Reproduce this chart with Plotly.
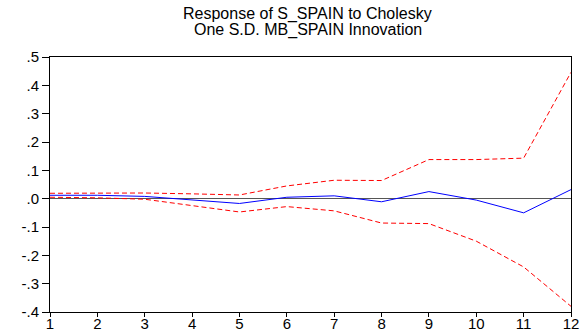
import plotly.graph_objects as go

# Impulse response periods and estimates
periods = list(range(1, 13))
response = [0.012, 0.012, 0.008, -0.005, -0.017, 0.005, 0.010, -0.011, 0.025, -0.005, -0.050, 0.032]
upper_band = [0.019, 0.020, 0.020, 0.017, 0.013, 0.045, 0.065, 0.064, 0.138, 0.138, 0.143, 0.446]
lower_band = [0.005, 0.003, -0.002, -0.025, -0.047, -0.028, -0.043, -0.086, -0.088, -0.150, -0.241, -0.380]

y_tick_vals = [-0.4, -0.3, -0.2, -0.1, 0.0, 0.1, 0.2, 0.3, 0.4, 0.5]
y_tick_text = ["-.4", "-.3", "-.2", "-.1", ".0", ".1", ".2", ".3", ".4", ".5"]

title_lines = ["Response of S_SPAIN to Cholesky", "One S.D. MB_SPAIN Innovation"]

fig = go.Figure()
fig.add_trace(go.Scatter(x=periods, y=upper_band, mode="lines",
                         line=dict(color="#ff0000", width=1, dash="5px,3px")))
fig.add_trace(go.Scatter(x=periods, y=lower_band, mode="lines",
                         line=dict(color="#ff0000", width=1, dash="5px,3px")))
fig.add_trace(go.Scatter(x=periods, y=response, mode="lines",
                         line=dict(color="#0000ff", width=1)))

fig.update_layout(
    width=581, height=332,
    margin=dict(l=50, r=10, t=57, b=20),
    paper_bgcolor="white", plot_bgcolor="white",
    showlegend=False,
    font=dict(family="Liberation Sans, Arial, sans-serif", size=13, color="black"),
)
# Two-line chart heading placed above the plotting area
fig.add_annotation(text=title_lines[0], xref="paper", yref="paper",
                   x=0.495, y=1.167, xanchor="center", yanchor="middle",
                   showarrow=False, font=dict(size=16, color="black"))
fig.add_annotation(text=title_lines[1], xref="paper", yref="paper",
                   x=0.495, y=1.106, xanchor="center", yanchor="middle",
                   showarrow=False, font=dict(size=16, color="black"))

fig.update_xaxes(range=[1, 12], tickvals=periods, ticks="outside", ticklen=4,
                 tickcolor="black", showgrid=False, zeroline=False,
                 showline=True, linecolor="black", linewidth=1, mirror=True,
                 tickfont=dict(size=15), automargin=False, ticklabelstandoff=-6)
fig.update_yaxes(range=[-0.4, 0.5], tickvals=y_tick_vals, ticktext=y_tick_text,
                 ticks="outside", ticklen=7, tickcolor="black", showgrid=False,
                 zeroline=True, zerolinecolor="#555555", zerolinewidth=1,
                 showline=True, linecolor="black", linewidth=1, mirror=True,
                 tickfont=dict(size=15), automargin=False)

fig.write_html("out.html")
